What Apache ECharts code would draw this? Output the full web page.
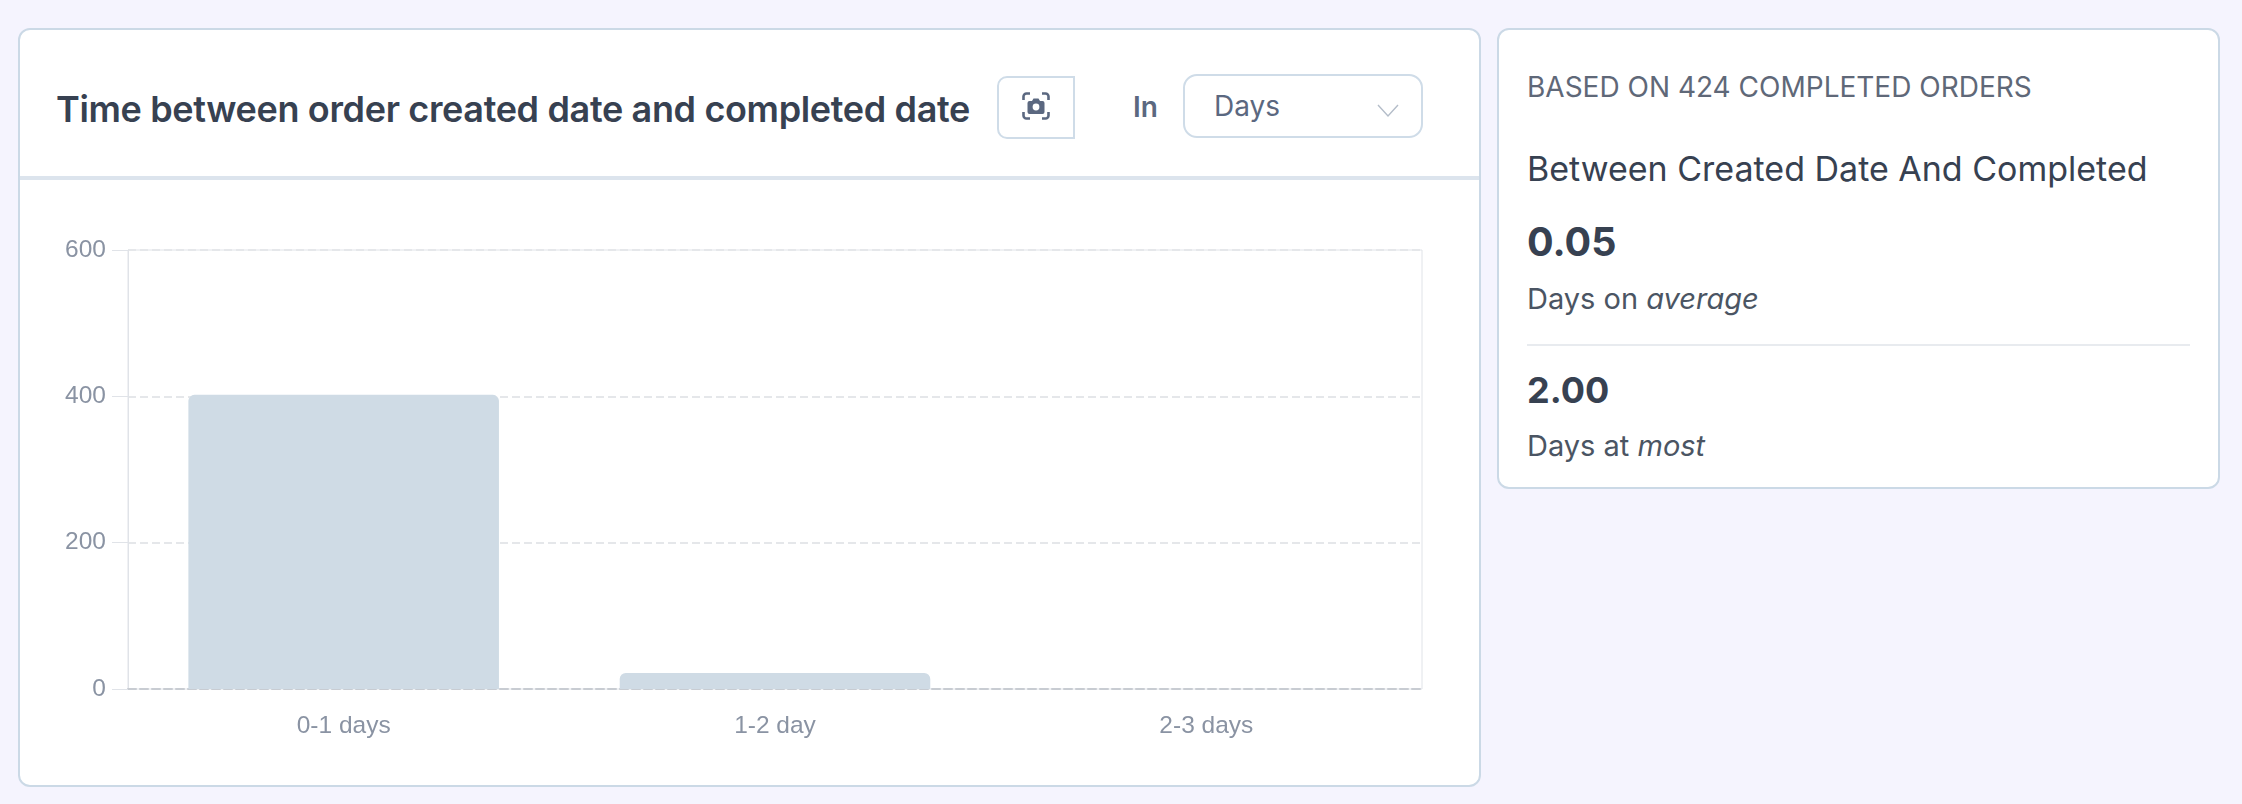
<!DOCTYPE html>
<html><head><meta charset="utf-8">
<style>
html,body{margin:0;padding:0;width:2242px;height:804px;overflow:hidden;background:#f5f4fe;font-family:Inter,sans-serif}
.abs{position:absolute;white-space:nowrap;line-height:1}
.card{position:absolute;background:#fff;border:2px solid #cbd9e6;border-radius:12px;box-sizing:border-box}
</style>
<script src="https://cdn.jsdelivr.net/npm/echarts@6/dist/echarts.min.js"></script>
</head><body>
<div class="card" style="left:18px;top:28px;width:1463px;height:759px"></div>
<div class="abs" style="left:20px;top:176px;width:1459px;height:4px;background:#dce4ed"></div>
<div class="card" style="left:1497px;top:28px;width:723px;height:461px"></div>

<div class="abs" style="left:56px;top:91px;font-size:36px;font-weight:600;color:#374151;letter-spacing:-0.35px">Time between order created date and completed date</div>

<div class="abs" style="left:997px;top:76px;width:78px;height:63px;box-sizing:border-box;border:2px solid #cfdce8;border-radius:10px 0 0 10px"></div>
<svg class="abs" style="left:1022px;top:92px" width="28" height="28" viewBox="0 0 28 28" fill="none">
  <path d="M1.5 8V4.5a3 3 0 0 1 3-3H8M20 1.5h3.5a3 3 0 0 1 3 3V8M26.5 20v3.5a3 3 0 0 1-3 3H20M8 26.5H4.5a3 3 0 0 1-3-3V20" stroke="#5b6880" stroke-width="2.6"/>
  <path d="M7.5 9h2.5l1.5-2.5h5L18 9h2.500a2 2 0 0 1 2 2v9a2 2 0 0 1-2 2h-13a2 2 0 0 1-2-2v-9a2 2 0 0 1 2-2z" fill="#5b6880"/>
  <circle cx="14" cy="15" r="3.4" fill="#fff"/>
</svg>
<div class="abs" style="left:1133px;top:93px;font-size:28px;font-weight:600;color:#5b6880">In</div>
<div class="abs" style="left:1183px;top:74px;width:240px;height:64px;box-sizing:border-box;border:2px solid #cfdce8;border-radius:14px"></div>
<div class="abs" style="left:1214px;top:92px;font-size:28px;color:#5b6880">Days</div>
<svg class="abs" style="left:1377px;top:103px" width="22" height="16" viewBox="0 0 22 16" fill="none"><path d="M1 2l10 11L21 2" stroke="#b4bdc9" stroke-width="1.4"/></svg>

<div class="abs" style="left:1527px;top:73px;font-size:28px;color:#5f6878">BASED ON 424 COMPLETED ORDERS</div>
<div class="abs" style="left:1527px;top:152px;font-size:34px;color:#374151">Between Created Date And Completed</div>
<div class="abs" style="left:1527px;top:223px;font-size:39.5px;font-weight:700;color:#374151">0.05</div>
<div class="abs" style="left:1527px;top:284px;font-size:29px;color:#4b5563">Days on <i>average</i></div>
<div class="abs" style="left:1527px;top:344px;width:663px;height:2px;background:#e8ebef"></div>
<div class="abs" style="left:1527px;top:372px;font-size:36px;font-weight:700;color:#374151">2.00</div>
<div class="abs" style="left:1527px;top:431px;font-size:29px;color:#4b5563">Days at <i>most</i></div>

<div id="chart" style="position:absolute;left:20px;top:190px;width:1460px;height:590px"></div>
<script>
var categories = ['0-1 days', '1-2 day', '2-3 days'];
var orderCounts = [402, 22, 0];
var yTicks = [0, 200, 400, 600];

var chart = echarts.init(document.getElementById('chart'), null, {renderer: 'canvas'});
chart.setOption({
  animation: false,
  backgroundColor: 'transparent',
  grid: {left: 108, right: 58, top: 60, bottom: 91, show: true, borderColor: '#e0e3e8', borderWidth: 1, backgroundColor: 'transparent'},
  xAxis: {
    type: 'category', data: categories,
    axisTick: {show: false},
    axisLine: {lineStyle: {color: '#c8ccd2', type: 'dashed', width: 2}},
    axisLabel: {color: '#8a93a3', fontSize: 24.5, fontFamily: 'Liberation Sans', margin: 25}
  },
  yAxis: {
    type: 'value', min: 0, max: 600, interval: 200,
    axisLine: {show: true, lineStyle: {color: '#e0e3e8'}},
    axisTick: {show: true, length: 16, lineStyle: {color: '#e0e3e8'}},
    axisLabel: {color: '#8a93a3', fontSize: 24.5, fontFamily: 'Liberation Sans', margin: 22,
      formatter: function (v) { return yTicks.indexOf(v) >= 0 ? String(v) : ''; }},
    splitLine: {show: true, lineStyle: {color: '#e5e7ea', type: 'dashed', width: 2}}
  },
  series: [{
    type: 'bar', data: orderCounts, barCategoryGap: '28%',
    itemStyle: {color: '#cfdbe5', borderRadius: [6, 6, 0, 0]}
  }]
});
</script>
</body></html>
